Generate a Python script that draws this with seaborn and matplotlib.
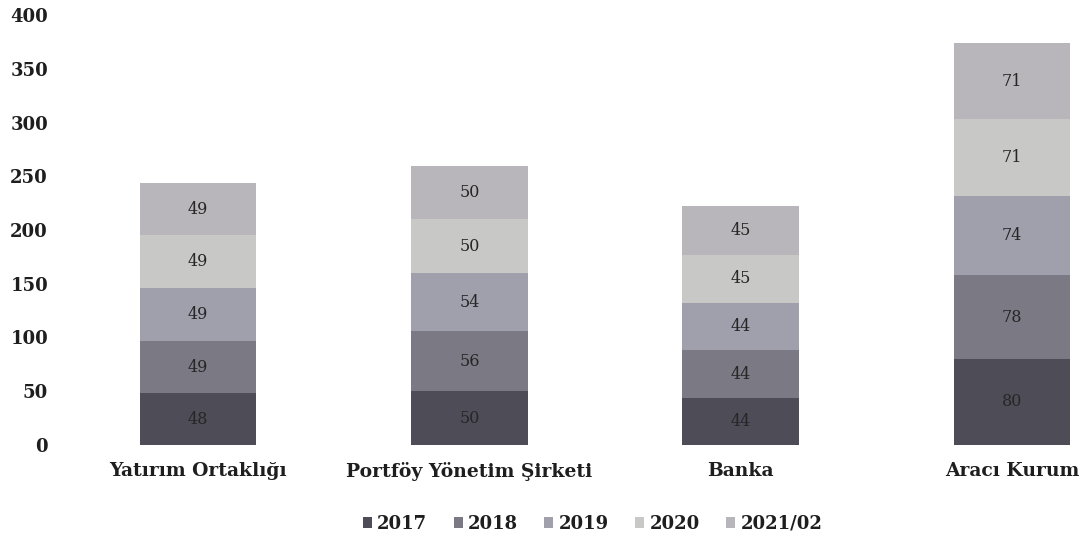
import numpy as np
import pandas as pd
import matplotlib
matplotlib.use("Agg")
import matplotlib.pyplot as plt
import seaborn as sns

# data
categories = ["Yatırım Ortaklığı", "Portföy Yönetim Şirketi", "Banka", "Aracı Kurum"]
years = ["2017", "2018", "2019", "2020", "2021/02"]
v2017 = [48, 50, 44, 80]
v2018 = [49, 56, 44, 78]
v2019 = [49, 54, 44, 74]
v2020 = [49, 50, 45, 71]
v2021 = [49, 50, 45, 71]
values = [v2017, v2018, v2019, v2020, v2021]

colors = ["#4d4c57", "#7a7984", "#a0a0ad", "#c8c8c6", "#b8b6ba"]

sns.set_theme(style="white")
plt.rcParams["font.family"] = ["DejaVu Serif"]

fig = plt.figure(figsize=(10.88, 5.39), dpi=100)
ax = fig.add_axes([105 / 1088, 1 - 445 / 539, 983 / 1088, 430 / 539])

bottom = np.zeros(len(categories))
for year, vals, col in zip(years, values, colors):
    df = pd.DataFrame({"cat": categories, "val": vals})
    sns.barplot(data=df, x="cat", y="val", order=categories, color=col,
                width=0.43, bottom=bottom, label=year, ax=ax,
                saturation=1, errorbar=None, linewidth=0)
    bottom = bottom + np.array(vals)

for cont in ax.containers:
    ax.bar_label(cont, label_type="center", fontsize=11.5, color="#262626")

ax.set_xlim(-0.343, 3.28)
ax.set_ylim(0, 400)
ax.set_yticks(range(0, 401, 50))
ax.set_xlabel("")
ax.set_ylabel("")
for s in ax.spines.values():
    s.set_visible(False)
ax.tick_params(axis="y", labelsize=13, pad=41, length=0)
ax.tick_params(axis="x", labelsize=13.5, pad=12, length=0)
for t in ax.get_yticklabels() + ax.get_xticklabels():
    t.set_fontweight("bold")
    t.set_color("#1e1e1e")

leg = ax.legend(loc="upper center", bbox_to_anchor=(0.496, -0.125), ncol=5,
                frameon=False, handlelength=0.5, handleheight=0.5,
                handletextpad=0.3, columnspacing=1.45,
                prop={"weight": "bold", "size": 13})
for t in leg.get_texts():
    t.set_color("#1e1e1e")

fig.savefig("out.png", dpi=100, facecolor="white")
